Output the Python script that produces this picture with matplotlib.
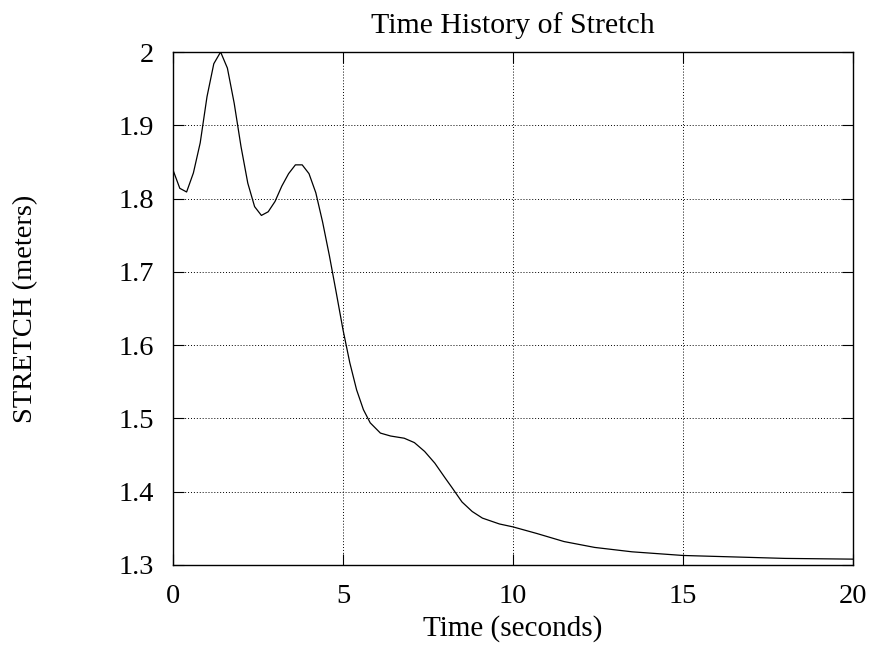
import matplotlib
matplotlib.use('Agg')
import matplotlib.pyplot as plt

plt.rcParams['font.family'] = 'serif'
plt.rcParams['font.serif'] = ['Liberation Serif', 'DejaVu Serif']

# sampled time history of the stretch
time_s = [0.0, 0.2, 0.4, 0.6, 0.8, 1.0, 1.2, 1.4, 1.6, 1.8, 2.0, 2.2, 2.4, 2.6,
          2.8, 3.0, 3.2, 3.4, 3.6, 3.8, 4.0, 4.2, 4.4, 4.6, 4.8, 5.0, 5.2, 5.4,
          5.6, 5.8, 6.1, 6.4, 6.8, 7.1, 7.4, 7.7, 8.0, 8.2, 8.5, 8.8, 9.1, 9.6,
          10.0, 10.7, 11.5, 12.4, 13.5, 15.0, 16.5, 18.0, 20.0]
stretch_m = [1.839, 1.814, 1.809, 1.835, 1.876, 1.939, 1.984, 2.000, 1.978,
             1.930, 1.871, 1.821, 1.789, 1.777, 1.782, 1.796, 1.817, 1.834,
             1.846, 1.846, 1.834, 1.808, 1.768, 1.722, 1.672, 1.621, 1.576,
             1.539, 1.512, 1.494, 1.480, 1.476, 1.473, 1.467, 1.455, 1.439,
             1.419, 1.406, 1.386, 1.373, 1.364, 1.356, 1.352, 1.343, 1.332,
             1.324, 1.318, 1.313, 1.311, 1.309, 1.308]

xticks = [0, 5, 10, 15, 20]
yticks = [1.3, 1.4, 1.5, 1.6, 1.7, 1.8, 1.9, 2.0]
yticklabels = ['1.3', '1.4', '1.5', '1.6', '1.7', '1.8', '1.9', '2']

fig = plt.figure(figsize=(8.73, 6.47), dpi=100)
ax = fig.add_axes([173/873, 1-565/647, 680/873, 513/647])

ax.plot(time_s, stretch_m, color='black', linewidth=0.9)

ax.set_xlim(0, 20)
ax.set_ylim(1.3, 2.0)
ax.set_xticks(xticks)
ax.set_yticks(yticks)
ax.set_yticklabels(yticklabels)
ax.grid(True, linestyle=(0, (1, 2)), color='black', linewidth=0.7)
ax.tick_params(direction='in', length=8, width=0.8, top=True, right=True,
               labelsize=20.5)
ax.tick_params(axis='x', pad=14)
ax.tick_params(axis='y', pad=13.5)
for sp in ax.spines.values():
    sp.set_linewidth(1.0)

ax.set_title('Time History of Stretch', fontsize=21.5, pad=14)
ax.set_xlabel('Time (seconds)', fontsize=21, labelpad=4)
ax.set_ylabel('STRETCH (meters)', fontsize=20.5, labelpad=58)

fig.savefig('out.png', dpi=100)
